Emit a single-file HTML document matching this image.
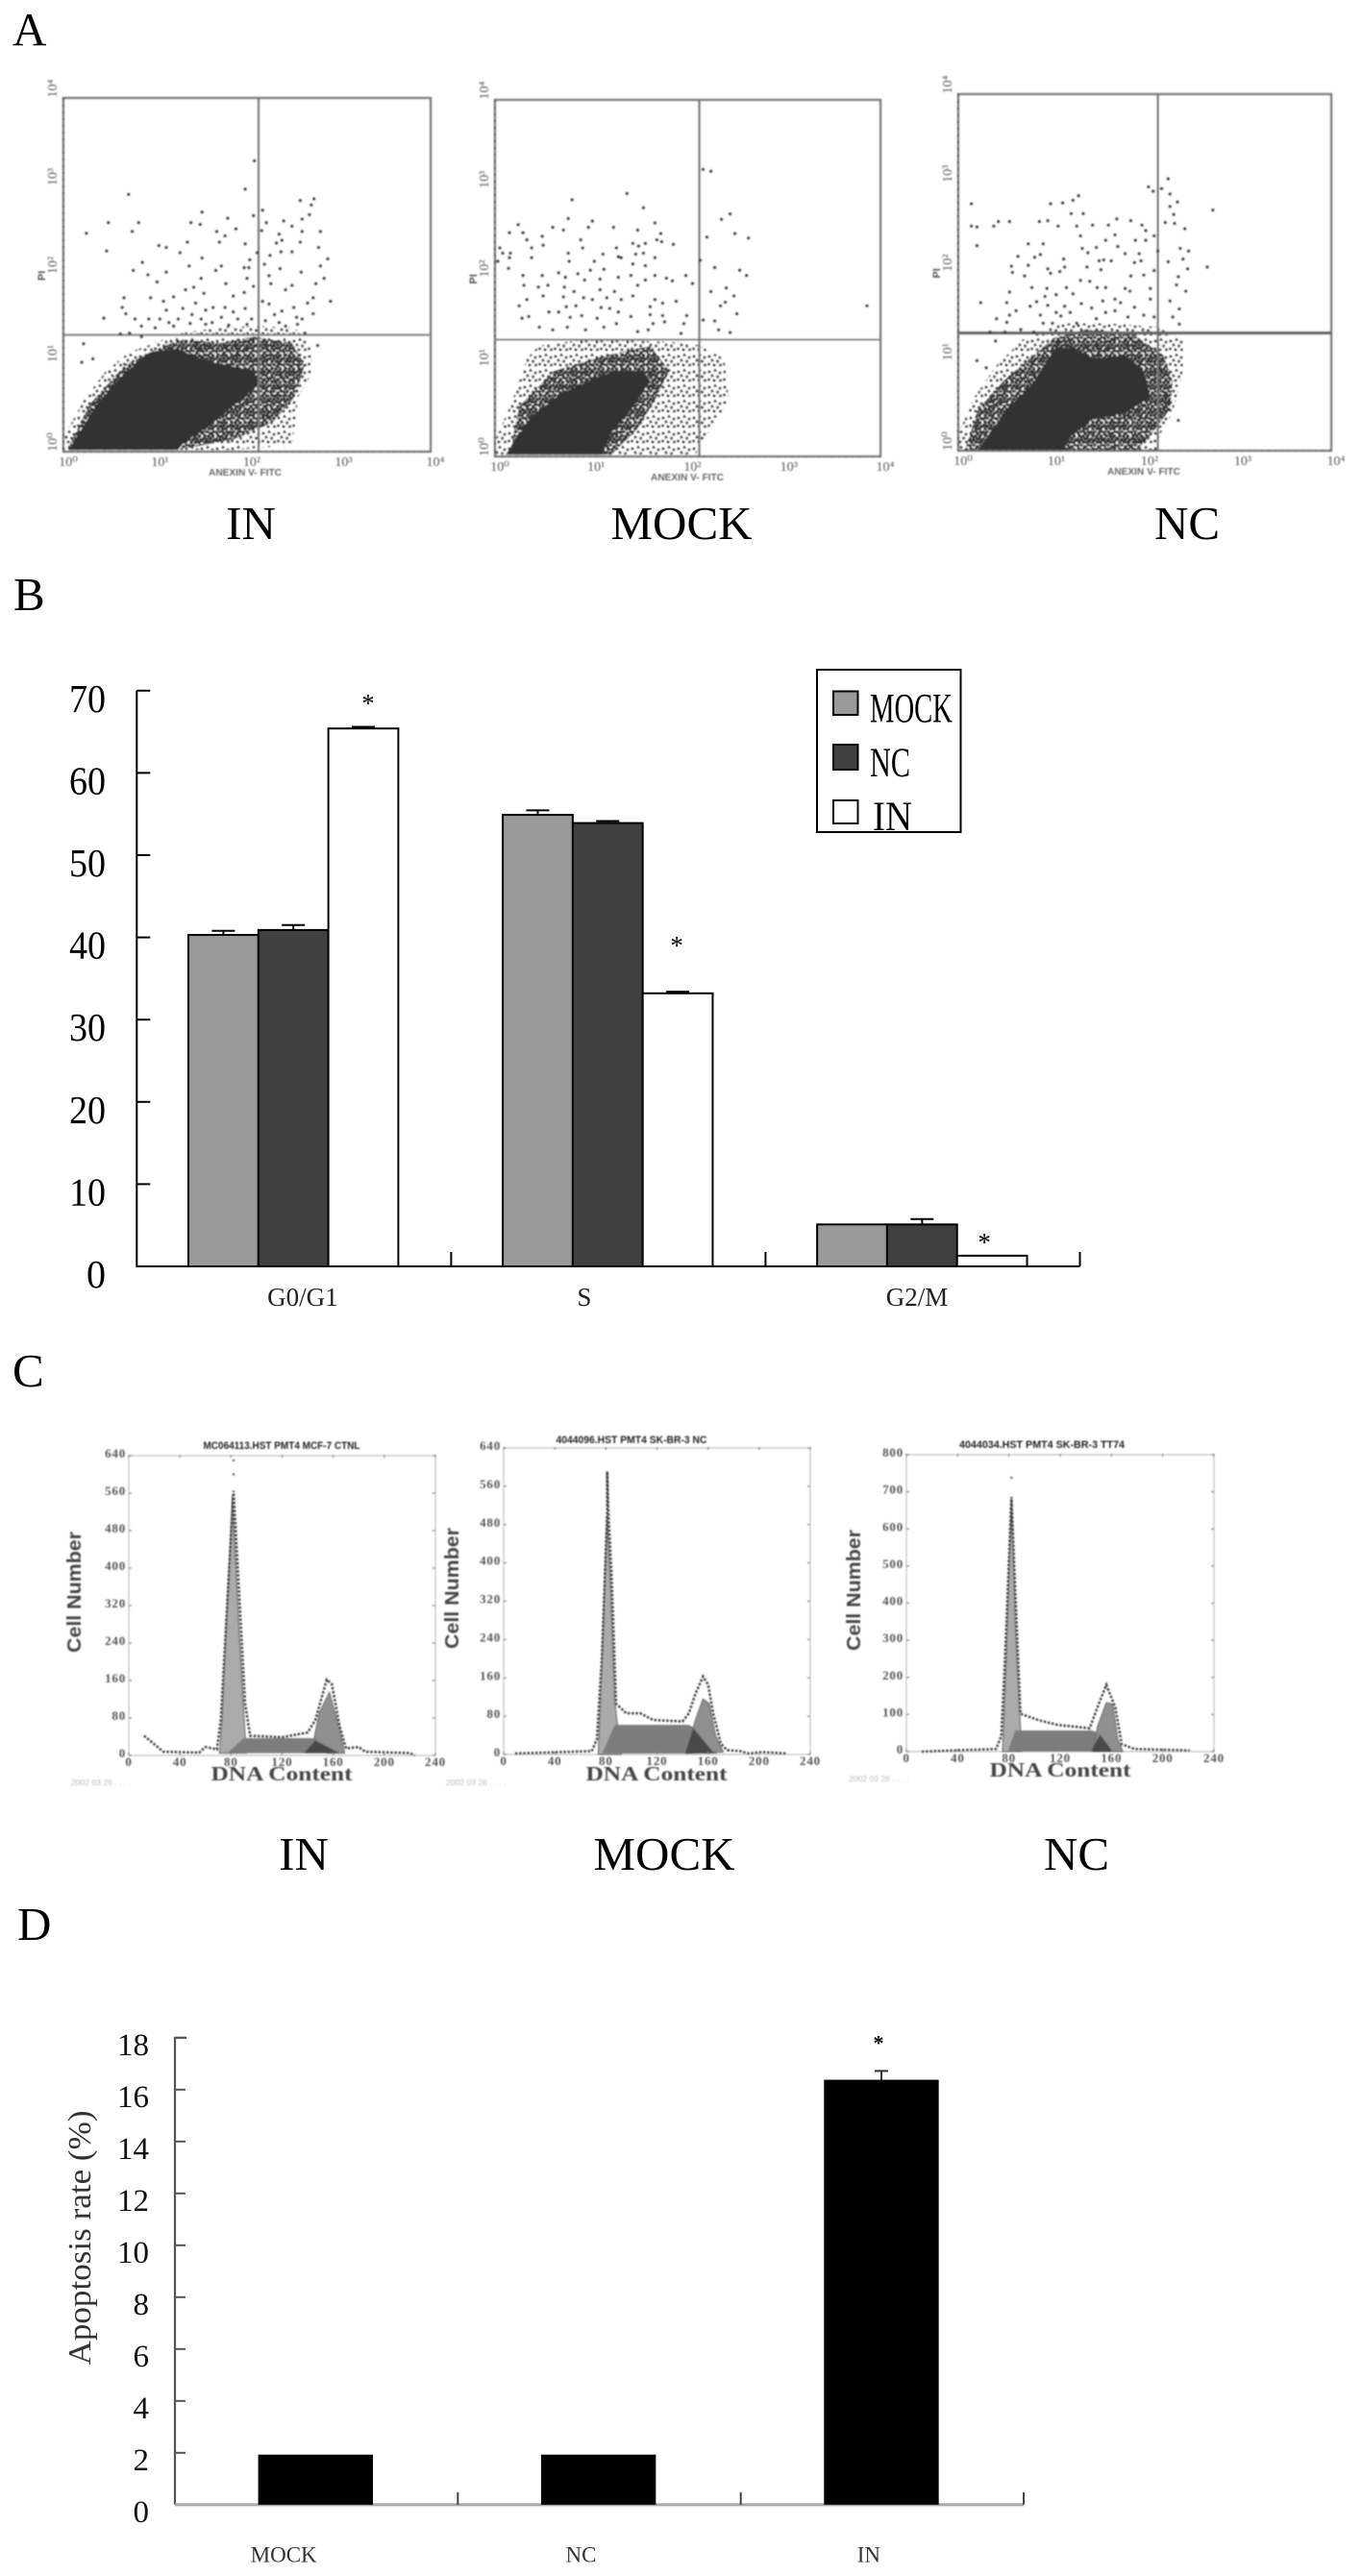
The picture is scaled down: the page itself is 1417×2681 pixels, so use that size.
<!DOCTYPE html>
<html lang="en"><head><meta charset="utf-8"><title>Flow cytometry and cell cycle figure</title>
<style>
html,body{margin:0;padding:0;background:#fff}
svg{display:block}
text{font-family:"Liberation Serif","DejaVu Serif",serif;fill:#000}
.sans{font-family:"Liberation Sans","DejaVu Sans",sans-serif}
</style></head>
<body>
<svg id="figure" xmlns="http://www.w3.org/2000/svg" width="1417" height="2681" viewBox="0 0 1417 2681">
<defs>
<filter id="soft" x="-5%" y="-5%" width="110%" height="110%"><feGaussianBlur stdDeviation="0.8"/></filter>
<filter id="softer" x="-5%" y="-5%" width="110%" height="110%"><feGaussianBlur stdDeviation="0.9"/></filter>
<pattern id="speck-dense" width="14" height="14" patternUnits="userSpaceOnUse">
<g fill="#333"><circle cx="1" cy="2" r="1.95"/><circle cx="5" cy="1" r="1.9"/><circle cx="9" cy="3" r="1.95"/><circle cx="12.5" cy="1" r="1.9"/><circle cx="3" cy="5.5" r="1.95"/><circle cx="7" cy="6" r="1.9"/><circle cx="11.5" cy="6" r="1.95"/><circle cx="1" cy="9" r="1.9"/><circle cx="5" cy="9.5" r="1.95"/><circle cx="9" cy="9" r="1.9"/><circle cx="13" cy="10" r="1.95"/><circle cx="3" cy="12.5" r="1.9"/><circle cx="7.5" cy="12.5" r="1.95"/><circle cx="11" cy="12.5" r="1.9"/></g>
</pattern>
<pattern id="speck-sparse" width="16" height="16" patternUnits="userSpaceOnUse">
<g fill="#3c3c3c"><circle cx="2" cy="3" r="1.6"/><circle cx="8" cy="1.5" r="1.6"/><circle cx="13" cy="4" r="1.6"/><circle cx="5" cy="7" r="1.6"/><circle cx="10.5" cy="8" r="1.6"/><circle cx="1.5" cy="11" r="1.6"/><circle cx="7" cy="12" r="1.6"/><circle cx="13.5" cy="12" r="1.6"/></g>
</pattern>
</defs>

<text x="13" y="47" font-size="49">A</text>
<text x="14" y="635" font-size="49">B</text>
<text x="13" y="1443" font-size="49">C</text>
<text x="18" y="2019" font-size="49">D</text>

<text x="261" y="561" font-size="49" text-anchor="middle">IN</text>
<text x="709" y="561" font-size="49" text-anchor="middle">MOCK</text>
<text x="1235" y="561" font-size="49" text-anchor="middle">NC</text>
<text x="316" y="1946" font-size="49" text-anchor="middle">IN</text>
<text x="691" y="1946" font-size="49" text-anchor="middle">MOCK</text>
<text x="1120" y="1946" font-size="49" text-anchor="middle">NC</text>

<g id="panel-a" filter="url(#soft)"></g>
<g id="panel-b"></g>
<g>
<rect x="850" y="697" width="149.5" height="169" fill="#fff" stroke="#000" stroke-width="2"/>
<rect x="867" y="719.5" width="25.5" height="24.5" fill="#999" stroke="#000" stroke-width="2"/>
<rect x="867" y="775" width="25.5" height="26" fill="#404040" stroke="#000" stroke-width="2"/>
<rect x="867" y="833" width="25.5" height="24" fill="#fff" stroke="#000" stroke-width="2"/>
<text x="905" y="751.5" font-size="43" textLength="86" lengthAdjust="spacingAndGlyphs">MOCK</text>
<text x="905" y="808" font-size="43" textLength="42" lengthAdjust="spacingAndGlyphs">NC</text>
<text x="908" y="864" font-size="43" textLength="41" lengthAdjust="spacingAndGlyphs">IN</text>
</g>
<g id="panel-c" filter="url(#softer)"></g>
<g id="panel-d"></g>
<text transform="translate(94,2329) rotate(-90)" font-size="34" text-anchor="middle" textLength="265" lengthAdjust="spacingAndGlyphs" style="fill:#333">Apoptosis rate (%)</text>
</svg>

<script>
/* ---------- Panel A data: (decades on log axes, 0 to 4) ---------- */
const decadeTicks = [0, 1, 2, 3, 4];
const decadeLabels = ['10⁰', '10¹', '10²', '10³', '10⁴'];
const scatterInGate = [2.126, 1.32];
const scatterMockGate = [2.12, 1.31];
const scatterNcGate = [2.14, 1.32];
const scatterInCore = [[.06,.02],[.34,.5],[.62,.84],[.93,1.12],[1.23,1.16],[1.58,1.02],[2.05,.92],[2.15,.78],[1.9,.56],[1.6,.3],[1.32,.12],[1.25,.02]];
const scatterInDense = [[.04,.02],[.29,.54],[.67,.98],[1.02,1.16],[1.27,1.27],[1.72,1.23],[2.07,1.3],[2.49,1.23],[2.63,.98],[2.52,.62],[2.28,.33],[1.86,.14],[1.37,.04]];
const scatterInSparse = [[0,.02],[.01,.18],[.22,.58],[.46,.91],[.71,1.12],[.99,1.23],[1.27,1.34],[1.72,1.41],[2.14,1.42],[2.52,1.4],[2.7,1.2],[2.7,.87],[2.56,.62],[2.52,.29],[2.49,.07],[1.86,.02],[1.3,.02]];
const scatterInPoints = [[2.08,3.29],[1.98,2.97],[.71,2.91],[.25,2.47],[.49,2.59],[.82,2.59],[.75,2.49],[.47,2.27],[1.04,2.33],[1.12,2.31],[1.35,2.37],[1.39,2.59],[1.49,2.57],[1.51,2.71],[1.79,2.64],[1.88,2.52],[1.67,2.49],[1.76,2.44],[1.7,2.37],[1.98,2.35],[2.07,2.67],[2.17,2.73],[2.21,2.59],[2.16,2.5],[2.4,2.61],[2.49,2.55],[2.58,2.84],[2.73,2.86],[2.7,2.79],[2.68,2.68],[2.6,2.63],[2.6,2.49],[2.8,2.49],[2.58,2.37],[2.78,2.31],[2.88,2.18],[2.8,2.1],[2.59,2.03],[2.84,1.96],[2.75,1.9],[2.91,1.7],[2.72,1.74],[2.66,1.68],[2.49,1.88],[2.42,1.83],[2.37,2.26],[2.49,2.26],[2.38,2.39],[2.32,2.36],[2.35,2.46],[2.11,2.25],[2.03,2.17],[1.97,2.08],[2.02,2.08],[2,1.96],[2.19,2.12],[2.25,2.22],[2.36,2.07],[2.24,1.99],[2.26,1.9],[1.51,2.19],[1.37,2.1],[1.66,2.05],[1.72,2.1],[1.5,1.96],[1.77,1.9],[1.27,2.25],[1.12,2.03],[.92,2],[1.02,1.92],[.76,2.05],[.86,2.14],[.66,1.74],[.64,1.63],[.44,1.51],[.68,1.56],[.78,1.5],[.95,1.74],[.93,1.5],[1.09,1.7],[1.2,1.75],[1.33,1.83],[1.42,1.86],[1.44,1.68],[1.53,1.79],[1.63,1.63],[1.76,1.63],[1.85,1.76],[1.97,1.8],[2.07,1.87],[2.17,1.7],[2.24,1.67],[2.38,1.59],[2.51,1.63],[2.54,1.52],[2.72,1.56],[2.63,1.34],[2.77,1.2],[.22,1.22],[.2,1.01],[.32,1.05],[1.05,1.5],[1.15,1.46],[1.25,1.5],[1.4,1.55],[1.5,1.5],[1.62,1.46],[1.72,1.52],[1.9,1.5],[2.05,1.5],[2.2,1.48],[2.35,1.46],[2.55,1.44],[.85,1.42],[1,1.4],[.72,1.34],[.62,1.33],[.85,1.3],[1.12,1.6],[1.3,1.62],[1.55,1.6],[1.85,1.58],[1.98,1.62],[2.3,1.55],[2.6,1.5],[1.2,1.42],[1.38,1.45],[1.55,1.44],[1.8,1.43],[2.0,1.44],[2.42,1.42]];

const scatterMockCore = [[.11,.02],[.38,.45],[.68,.7],[.98,.85],[1.24,.96],[1.54,.96],[1.61,.85],[1.41,.52],[1.21,.27],[1.11,.02]];
const scatterMockDense = [[.15,.02],[.25,.56],[.61,.96],[1.14,1.13],[1.61,1.24],[1.81,.96],[1.68,.67],[1.48,.31],[1.21,.02]];
const scatterMockSparse = [[0,.02],[.01,.2],[.18,.63],[.33,1.1],[.45,1.24],[.85,1.3],[1.41,1.3],[1.91,1.28],[2.11,1.25],[2.38,1.1],[2.43,.63],[2.24,.31],[2.08,.02]];
const scatterMockPoints = [[2.16,3.22],[2.24,3.2],[1.37,2.95],[.8,2.88],[1.54,2.79],[.76,2.67],[.24,2.6],[.15,2.51],[1.01,2.64],[.97,2.57],[.6,2.57],[.71,2.54],[1.23,2.57],[1.48,2.54],[1.66,2.62],[1.72,2.5],[.29,2.51],[.33,2.43],[.49,2.47],[.5,2.37],[.89,2.43],[.38,2.34],[.05,2.34],[.08,2.28],[.16,2.28],[.15,2.23],[.03,2.19],[.14,2.11],[.38,2.23],[.76,2.28],[.77,2.19],[.91,2.34],[1.03,2.19],[1.12,2.27],[1.26,2.34],[1.28,2.24],[1.31,2.23],[1.43,2.39],[1.49,2.36],[1.54,2.28],[1.56,2.39],[1.68,2.43],[1.73,2.41],[1.85,2.38],[1.66,2.23],[1.56,2.14],[1.46,2.27],[1.43,2.16],[1.13,2.1],[.99,2.09],[.29,2.03],[.49,2.03],[.66,2.06],[.73,2.01],[.86,2.05],[.93,1.98],[1.09,1.99],[1.28,2.01],[1.41,2.03],[1.48,1.92],[1.56,1.98],[1.66,2.03],[1.78,2],[1.84,1.97],[1.98,2.03],[2.05,1.94],[2.13,2.2],[2.28,2.12],[2.54,2.09],[2.61,2.03],[2.2,2.46],[2.35,2.66],[2.44,2.72],[2.49,2.5],[2.63,2.45],[2.24,1.85],[2.4,1.89],[2.48,1.8],[2.39,1.73],[2.34,1.69],[2.51,1.6],[2.16,1.53],[2.28,1.52],[2.32,1.42],[2.44,1.39],[3.86,1.69],[.3,1.92],[.45,1.9],[.55,1.92],[.72,1.9],[.82,1.85],[1.09,1.87],[1.24,1.85],[.25,1.69],[.33,1.76],[.5,1.8],[.71,1.79],[.92,1.78],[1.01,1.76],[1.16,1.78],[1.31,1.76],[1.43,1.8],[1.66,1.76],[1.88,1.74],[1.74,1.72],[.74,1.68],[.84,1.69],[1.1,1.67],[1.19,1.66],[1.61,1.68],[.28,1.55],[.35,1.57],[.56,1.62],[.66,1.62],[.78,1.56],[.9,1.58],[1.06,1.55],[1.28,1.62],[1.41,1.57],[1.61,1.59],[1.74,1.58],[1.99,1.58],[.46,1.45],[.75,1.45],[.94,1.42],[1.13,1.45],[1.26,1.49],[1.48,1.4],[1.64,1.49],[1.76,1.51],[1.96,1.49],[.6,1.42],[1.59,1.42],[1.93,1.38]];

const scatterNcCore = [[.21,.01],[.52,.46],[.79,.74],[1.03,1.14],[1.24,1.16],[1.44,1.03],[1.79,1.07],[1.99,.89],[2.06,.6],[1.79,.42],[1.44,.35],[1.2,.17],[1.13,.01]];
const scatterNcDense = [[.07,.01],[.21,.46],[.48,.78],[.76,1.03],[1.03,1.27],[1.37,1.36],[1.86,1.32],[2.2,1.07],[2.3,.78],[2.27,.46],[2.06,.17],[1.92,.01],[1.51,.01]];
const scatterNcSparse = [[0,.01],[.02,.24],[.17,.6],[.41,.96],[.69,1.25],[1.1,1.43],[1.62,1.43],[2.13,1.39],[2.41,1.25],[2.41,.89],[2.3,.42],[2.16,.17],[2.13,.01]];
const scatterNcPoints = [[2.25,3.05],[2.04,2.96],[2.09,2.91],[2.18,2.94],[2.27,2.88],[2.35,2.79],[2.27,2.74],[2.31,2.65],[2.73,2.7],[.14,2.77],[.99,2.77],[1.12,2.78],[1.23,2.81],[1.29,2.86],[1.21,2.66],[1.34,2.66],[.14,2.52],[.2,2.51],[.38,2.52],[.43,2.57],[.55,2.57],[.87,2.57],[.96,2.58],[1.07,2.52],[1.27,2.52],[1.44,2.53],[1.61,2.53],[1.7,2.6],[1.85,2.58],[1.97,2.53],[2.22,2.56],[2.32,2.55],[2.43,2.49],[2.01,2.47],[2.1,2.41],[1.31,2.41],[.2,2.3],[.75,2.32],[.91,2.32],[1.33,2.27],[1.48,2.28],[1.58,2.36],[1.68,2.42],[1.71,2.29],[1.9,2.36],[2.01,2.36],[2.14,2.24],[1.79,2.21],[1.94,2.21],[2.38,2.27],[2.47,2.24],[.64,2.18],[.82,2.17],[.88,2.2],[1.13,2.15],[1.39,2.22],[1.51,2.13],[1.56,2.14],[1.64,2.13],[1.89,2.11],[1.96,2.13],[2.25,2.12],[2.41,2.15],[2.67,2.06],[.57,2.07],[.75,2.08],[.96,2.04],[1.09,2.01],[1.14,2.06],[1.38,2.06],[1.53,2.03],[2.1,2.02],[.58,2],[.71,1.96],[.99,1.99],[1.85,1.96],[1.99,1.97],[2.36,1.95],[1.31,1.91],[1.41,1.9],[2.46,2.04],[.79,1.83],[.95,1.82],[1.16,1.83],[1.49,1.83],[1.58,1.83],[1.79,1.82],[2.06,1.82],[2.34,1.86],[.55,1.78],[.93,1.73],[1.05,1.75],[1.23,1.76],[1.84,1.79],[2.44,1.79],[.24,1.66],[.52,1.66],[.84,1.67],[.96,1.63],[1.14,1.62],[1.32,1.65],[1.43,1.6],[1.55,1.68],[1.68,1.7],[1.74,1.66],[1.89,1.61],[2.06,1.7],[2.27,1.68],[2.37,1.59],[.62,1.57],[.77,1.62],[1.05,1.55],[1.2,1.55],[1.58,1.55],[1.68,1.57],[.41,1.48],[.55,1.52],[.88,1.52],[1.1,1.51],[1.48,1.48],[1.82,1.5],[1.99,1.52],[2.1,1.5],[2.3,1.5],[.52,1.44],[.91,1.43],[1.01,1.43],[1.27,1.43],[2.37,1.42],[.34,1.33],[.5,1.33],[.67,1.36],[.81,1.33],[.4,1.23],[.2,1.01],[.3,.93],[2.36,.34]];

/* ---------- Panel B data ---------- */
const cycleCategories = ['G0/G1', 'S', 'G2/M'];
const cycleMock = [40.3, 54.9, 5.1];
const cycleNc = [40.9, 53.9, 5.1];
const cycleIn = [65.4, 33.2, 1.3];
const cycleMockErr = [0.5, 0.55, 0];
const cycleNcErr = [0.6, 0.25, 0.65];
const cycleInErr = [0.2, 0.2, 0];
const cycleStarLevels = [68.9, 39.5, 3.4];
const cycleTicks = [0, 10, 20, 30, 40, 50, 60, 70];

/* ---------- Panel C data: DNA content vs cell number ---------- */
const dnaTicks = [0, 40, 80, 120, 160, 200, 240];
const cellTicksIn = [0, 80, 160, 240, 320, 400, 480, 560, 640];
const cellTicksMock = [0, 80, 160, 240, 320, 400, 480, 560, 640];
const cellTicksNc = [0, 100, 200, 300, 400, 500, 600, 700, 800];
const histInTotal = [[12,42],[27,8],[55,6],[60,18],[69,13],[72,76],[82,565],[91,111],[95,42],[120,39],[140,49],[146,76],[155,162],[159,152],[165,63],[170,15],[180,18],[185,8],[220,5],[224,0]];
const histInSpike = [[82,600],[82,630]];
const histInG1 = [[71,5],[73,76],[81,555],[86,281],[91,42],[92,5]];
const histInS = [[77,5],[90,37],[145,37],[164,5]];
const histInG2 = [[145,36],[149,90],[157,135],[165,56],[169,5],[155,5]];
const histInOverlap = [[137,5],[146,32],[165,5]];
const histMockTotal = [[9,2],[69,7],[73,32],[77,206],[81,507],[81,591],[82,507],[84.5,373],[88,106],[96,86],[107,86],[117,72],[140,69],[145,86],[150,126],[156,163],[160,146],[164,86],[170,22],[175,9],[185,7],[192,2],[202,5],[222,2]];
const histMockSpike = [];
const histMockG1 = [[74,0],[77,190],[81,500],[84,330],[87,110],[90,40],[92,0]];
const histMockS = [[77,2],[87,62],[145,62],[152,52],[167,2]];
const histMockG2 = [[143,2],[150,72],[156,116],[161,106],[166,39],[172,5]];
const histMockOverlap = [[142,2],[148.5,55],[153.5,39],[165,2]];
const histNcTotal = [[12,0],[70,7],[74,42],[77,258],[82,686],[85,431],[89,102],[103,85],[118,72],[143,63],[150,128],[156,180],[163,119],[168,20],[178,7],[221,3]];
const histNcSpike = [[82,738]];
const histNcG1 = [[75,0],[78,258],[82,677],[85,344],[88,128],[90,0]];
const histNcS = [[79,0],[85,57],[145,57],[154,46],[166,0]];
const histNcG2 = [[146,0],[149,67],[156,132],[161,128],[165,33],[169,0]];
const histNcOverlap = [[144,0],[151,46],[161,0]];

/* ---------- Panel D data ---------- */
const apoCategories = ['MOCK', 'NC', 'IN'];
const apoValues = [1.93, 1.93, 16.38];
const apoErrors = [0, 0, 0.34];
const apoStarLevels = [null, null, 17.9];
const apoTicks = [0, 2, 4, 6, 8, 10, 12, 14, 16, 18];

const NS = 'http://www.w3.org/2000/svg';
function mk(tag, parent, attrs, text) {
  const el = document.createElementNS(NS, tag);
  for (const k in attrs) el.setAttribute(k, attrs[k]);
  if (text !== undefined) el.textContent = text;
  parent.appendChild(el);
  return el;
}

/* ---------- Panel A drawing ---------- */
function drawScatter(cfg) {
  const g = mk('g', document.getElementById('panel-a'), {});
  
  
  const x = d => cfg.left + d / 4 * (cfg.right - cfg.left);
  const y = d => cfg.bottom - d / 4 * (cfg.bottom - cfg.top);
  const frame = mk('rect', g, {x: cfg.left, y: cfg.top, width: cfg.right - cfg.left, height: cfg.bottom - cfg.top, fill: '#fff', stroke: '#7a7a7a', 'stroke-width': 2.4});
  
  
  const leftTicks = mk('line', g, {x1: cfg.left, y1: cfg.top, x2: cfg.left, y2: cfg.bottom, stroke: '#444', 'stroke-width': 2, 'stroke-dasharray': '2 5'});
  
  
  const bottomTicks = mk('line', g, {x1: cfg.left, y1: cfg.bottom, x2: cfg.right, y2: cfg.bottom, stroke: '#666', 'stroke-width': 2, 'stroke-dasharray': '2 5'});
  
  
  const pts = list => list.map(p => x(p[0]).toFixed(1) + ',' + y(p[1]).toFixed(1)).join(' ');
  const sparse = mk('polygon', g, {points: pts(cfg.sparse), fill: 'url(#speck-sparse)'});
  
  
  const dense = mk('polygon', g, {points: pts(cfg.dense), fill: 'url(#speck-dense)'});
  
  
  const core = mk('polygon', g, {points: pts(cfg.core), fill: '#333'});
  
  
  const vg = mk('line', g, {x1: x(cfg.gate[0]), y1: cfg.top, x2: x(cfg.gate[0]), y2: cfg.bottom, stroke: '#777', 'stroke-width': 2.4});
  
  
  const hg = mk('line', g, {x1: cfg.left, y1: y(cfg.gate[1]), x2: cfg.right, y2: y(cfg.gate[1]), stroke: cfg.gateColor, 'stroke-width': cfg.gateWidth});
  
  
  cfg.points.forEach(p => {
    const c = mk('circle', g, {cx: x(p[0]).toFixed(1), cy: y(p[1]).toFixed(1), r: 1.8, fill: '#3c3c3c'});
    
    
  });
  decadeTicks.forEach((d, i) => {
    const tx = mk('text', g, {x: x(d) + 5, y: cfg.bottom + 15, 'font-size': 14, 'text-anchor': 'middle', style: 'fill:#555'}, decadeLabels[i]);
    
    
    const ty = mk('text', g, {transform: 'translate(' + (cfg.left - 7) + ',' + (y(d) - 10) + ') rotate(-90)', 'font-size': 14, 'text-anchor': 'middle', style: 'fill:#555'}, decadeLabels[i]);
    
    
  });
  const xt = mk('text', g, {x: cfg.xTitleX, y: cfg.bottom + 25, 'font-size': 10.5, 'font-weight': 'bold', 'text-anchor': 'middle', class: 'sans', style: 'fill:#666', textLength: 76, lengthAdjust: 'spacingAndGlyphs'}, 'ANEXIN V- FITC');
  
  
  const yt = mk('text', g, {transform: 'translate(' + (cfg.left - 19) + ',' + y(1.99) + ') rotate(-90)', 'font-size': 11, 'font-weight': 'bold', 'text-anchor': 'middle', class: 'sans', style: 'fill:#555'}, 'PI');
  
  
}
drawScatter({key: 'in', left: 66, right: 448, top: 102, bottom: 470, xTitleX: 255, gateColor: '#888', gateWidth: 2.4, gate: scatterInGate, core: scatterInCore, dense: scatterInDense, sparse: scatterInSparse, points: scatterInPoints});
drawScatter({key: 'mock', left: 515, right: 916, top: 104, bottom: 475, xTitleX: 715, gateColor: '#777', gateWidth: 2, gate: scatterMockGate, core: scatterMockCore, dense: scatterMockDense, sparse: scatterMockSparse, points: scatterMockPoints});
drawScatter({key: 'nc', left: 997, right: 1385, top: 98, bottom: 469, xTitleX: 1190, gateColor: '#666', gateWidth: 3.4, gate: scatterNcGate, core: scatterNcCore, dense: scatterNcDense, sparse: scatterNcSparse, points: scatterNcPoints});

/* ---------- Panel B drawing ---------- */
(function () {
  const g = document.getElementById('panel-b');
  const left = 142.3, right = 1123.5, zero = 1318, unit = 8.56;
  const y = v => zero - v * unit;
  const band = (right - left) / 3;
  const barW = 72.8, inset = 53.7;
  const x = (cat, s) => left + cat * band + inset + s * barW;
  const labelNudge = [9, -25, -6];
  const starNudge = [5, -1, -8];
  const series = [
    {name: 'mock', values: cycleMock, errs: cycleMockErr, fill: '#999'},
    {name: 'nc', values: cycleNc, errs: cycleNcErr, fill: '#404040'},
    {name: 'in', values: cycleIn, errs: cycleInErr, fill: '#fff'}
  ];
  series.forEach((s, si) => s.values.forEach((v, c) => {
    const cx = x(c, si) + barW / 2;
    if (s.errs[c] > 0) {
      const e = mk('path', g, {d: 'M' + cx + ' ' + y(v) + 'V' + y(v + s.errs[c]) + 'M' + (cx - 12) + ' ' + y(v + s.errs[c]) + 'H' + (cx + 12), stroke: '#000', 'stroke-width': 2, fill: 'none'});
      
      
    }
    const r = mk('rect', g, {x: x(c, si), y: y(v), width: barW, height: zero - y(v), fill: s.fill, stroke: '#000', 'stroke-width': 2});
    
    
  }));
  const axes = mk('path', g, {d: 'M' + left + ' ' + y(70) + 'V' + zero + 'H' + right, stroke: '#000', 'stroke-width': 2, fill: 'none'});
  
  
  cycleTicks.forEach(t => {
    const l = mk('line', g, {x1: left, x2: left + 14, y1: y(t), y2: y(t), stroke: '#000', 'stroke-width': 2});
    
    
    const tx = mk('text', g, {x: 110, y: y(t) + 22, 'font-size': 41, 'text-anchor': 'end', textLength: t === 0 ? 20 : 38, lengthAdjust: 'spacingAndGlyphs'}, String(t));
    
    
  });
  cycleCategories.forEach((c, i) => {
    const t = mk('line', g, {x1: left + (i + 1) * band, x2: left + (i + 1) * band, y1: zero, y2: zero - 15, stroke: '#000', 'stroke-width': 2});
    
    
    const l = mk('text', g, {x: left + (i + 0.5) * band + labelNudge[i], y: 1359, 'font-size': 27, 'text-anchor': 'middle', style: 'fill:#222'}, c);
    
    
    const s = mk('text', g, {x: x(i, 2) + barW / 2 + starNudge[i], y: y(cycleStarLevels[i]) + 13, 'font-size': 27, 'text-anchor': 'middle'}, '*');
    
    
  });
})();

/* ---------- Panel C drawing ---------- */
function drawHist(cfg) {
  const g = mk('g', document.getElementById('panel-c'), {});
  
  
  const ymax = cfg.cellTicks[cfg.cellTicks.length - 1];
  const x = v => cfg.left + v / 240 * (cfg.right - cfg.left);
  const y = v => cfg.bottom - v / ymax * (cfg.bottom - cfg.top);
  const frame = mk('rect', g, {x: cfg.left, y: cfg.top, width: cfg.right - cfg.left, height: cfg.bottom - cfg.top, fill: 'none', stroke: '#bbb', 'stroke-width': 1.1});
  
  
  const poly = list => list.map(p => x(p[0]).toFixed(1) + ',' + y(p[1]).toFixed(1)).join(' ');
  const g1 = mk('polygon', g, {points: poly(cfg.g1), fill: '#ababab', stroke: '#555', 'stroke-width': 1});
  
  
  const sp = mk('polygon', g, {points: poly(cfg.s), fill: '#7d7d7d'});
  
  
  const g2 = mk('polygon', g, {points: poly(cfg.g2), fill: '#8f8f8f', stroke: '#666', 'stroke-width': 1});
  
  
  const ov = mk('polygon', g, {points: poly(cfg.overlap), fill: '#4a4a4a'});
  
  
  const total = mk('polyline', g, {points: poly(cfg.total), fill: 'none', stroke: '#3a3a3a', 'stroke-width': 2.5, 'stroke-dasharray': '2.4 1.8'});
  
  
  cfg.spike.forEach(p => {
    const d = mk('circle', g, {cx: x(p[0]).toFixed(1), cy: y(p[1]).toFixed(1), r: 1.2, fill: '#555'});
    
    
  });
  dnaTicks.forEach(t => {
    const l = mk('text', g, {x: x(t), y: cfg.bottom + 11, 'font-size': 13, 'font-weight': 'bold', 'text-anchor': 'middle', style: 'fill:#555', 'letter-spacing': 0.8}, String(t));
    
    
    const m = mk('path', g, {d: 'M' + x(t) + ' ' + (cfg.top - 1) + 'v3M' + x(t) + ' ' + cfg.bottom + 'v-3', stroke: '#888', 'stroke-width': 1.3});
    
    
  });
  cfg.cellTicks.forEach(t => {
    const l = mk('text', g, {x: cfg.left - 3, y: y(t) + 2, 'font-size': 13, 'font-weight': 'bold', 'text-anchor': 'end', style: 'fill:#555', 'letter-spacing': 0.8}, String(t));
    
    
    const m = mk('path', g, {d: 'M' + cfg.left + ' ' + y(t) + 'h3M' + cfg.right + ' ' + y(t) + 'h-3', stroke: '#888', 'stroke-width': 1.3});
    
    
  });
  const title = mk('text', g, {x: cfg.titleX, y: cfg.titleY, 'font-size': 11, 'font-weight': 'bold', 'text-anchor': 'middle', class: 'sans', textLength: cfg.titleW, lengthAdjust: 'spacingAndGlyphs', style: 'fill:#222'}, cfg.title);
  
  
  const xt = mk('text', g, {x: cfg.dnaX, y: cfg.dnaY, 'font-size': 21, 'font-weight': 'bold', 'text-anchor': 'middle', textLength: 147, lengthAdjust: 'spacingAndGlyphs', style: 'fill:#444'}, 'DNA  Content');
  
  
  const yt = mk('text', g, {transform: 'translate(' + cfg.cellX + ',' + cfg.cellY + ') rotate(-90)', 'font-size': 20, 'font-weight': 'bold', 'text-anchor': 'middle', class: 'sans', textLength: 126, lengthAdjust: 'spacingAndGlyphs', style: 'fill:#444'}, 'Cell  Number');
  
  
  const stamp = mk('text', g, {x: cfg.left - 60, y: cfg.dnaY + 5, 'font-size': 8, class: 'sans', style: 'fill:#bbb', textLength: 62, lengthAdjust: 'spacingAndGlyphs'}, '2002 03 26  . . . .');
  
  
}
drawHist({key: 'in', left: 134, right: 453, top: 1515, bottom: 1827, cellTicks: cellTicksIn, total: histInTotal, spike: histInSpike, g1: histInG1, s: histInS, g2: histInG2, overlap: histInOverlap, title: 'MC064113.HST PMT4 MCF-7 CTNL', titleX: 293, titleY: 1508, titleW: 163, dnaX: 293, dnaY: 1853, cellX: 84, cellY: 1657});
drawHist({key: 'mock', left: 524, right: 843, top: 1507, bottom: 1826, cellTicks: cellTicksMock, total: histMockTotal, spike: histMockSpike, g1: histMockG1, s: histMockS, g2: histMockG2, overlap: histMockOverlap, title: '4044096.HST PMT4 SK-BR-3 NC', titleX: 657, titleY: 1502, titleW: 157, dnaX: 683, dnaY: 1853, cellX: 477, cellY: 1653});
drawHist({key: 'nc', left: 943, right: 1263, top: 1514, bottom: 1823, cellTicks: cellTicksNc, total: histNcTotal, spike: histNcSpike, g1: histNcG1, s: histNcS, g2: histNcG2, overlap: histNcOverlap, title: '4044034.HST PMT4 SK-BR-3 TT74', titleX: 1084, titleY: 1507, titleW: 172, dnaX: 1103, dnaY: 1849, cellX: 895, cellY: 1655});

/* ---------- Panel D drawing ---------- */
(function () {
  const g = document.getElementById('panel-d');
  const left = 182, right = 1065, zero = 2606.8, unit = 27;
  const y = v => zero - v * unit;
  const band = (right - left) / 3;
  const barW = 119.4, inset = 86.6;
  const labelNudge = [-34, -19, -14];
  const yAxis = mk('path', g, {d: 'M' + (left + 12) + ' ' + y(18) + 'H' + left + 'V' + zero, stroke: '#555', 'stroke-width': 2.2, fill: 'none'});
  
  
  apoTicks.forEach(t => {
    const m = mk('line', g, {x1: left, x2: left + 11, y1: y(t), y2: y(t), stroke: '#555', 'stroke-width': 2});
    
    
    const l = mk('text', g, {x: 155, y: y(t) + 18, 'font-size': 33, 'text-anchor': 'end', style: 'fill:#111'}, String(t));
    
    
  });
  const xAxis = mk('line', g, {x1: left, x2: right, y1: zero, y2: zero, stroke: '#aaa', 'stroke-width': 3.2});
  
  
  apoCategories.forEach((c, i) => {
    const bx = left + i * band + inset;
    const r = mk('rect', g, {x: bx, y: y(apoValues[i]), width: barW, height: zero - y(apoValues[i]), fill: '#000'});
    
    
    if (apoErrors[i] > 0) {
      const cx = bx + barW / 2;
      const top = y(apoValues[i] + apoErrors[i]);
      const e = mk('path', g, {d: 'M' + cx + ' ' + y(apoValues[i]) + 'V' + top + 'M' + (cx - 7) + ' ' + top + 'H' + (cx + 7), stroke: '#333', 'stroke-width': 2, fill: 'none'});
      
      
    }
    if (apoStarLevels[i] !== null) {
      const s = mk('text', g, {x: bx + barW / 2 - 3, y: y(apoStarLevels[i]) + 10, 'font-size': 22, 'font-weight': 'bold', 'text-anchor': 'middle'}, '*');
      
      
    }
    const t = mk('line', g, {x1: left + (i + 1) * band, x2: left + (i + 1) * band, y1: zero, y2: zero - 13, stroke: '#444', 'stroke-width': 2});
    
    
    const l = mk('text', g, {x: left + (i + 0.5) * band + labelNudge[i], y: 2666.5, 'font-size': 23, 'text-anchor': 'middle', style: 'fill:#333'}, c);
    
    
  });
})();
</script>
</body></html>
